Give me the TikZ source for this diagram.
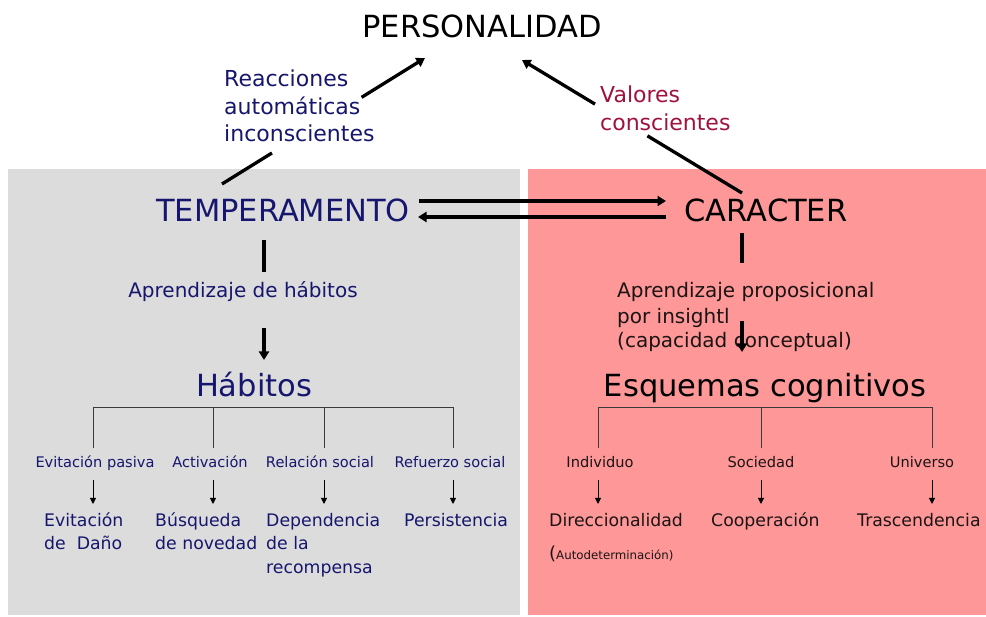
\documentclass[tikz,border=0pt]{standalone}
\usepackage{fontspec}
\setmainfont{DejaVu Sans}
\usetikzlibrary{arrows.meta}
\definecolor{navyt}{HTML}{16166E}
\definecolor{wine}{HTML}{A0123C}
\definecolor{graybg}{HTML}{DCDCDC}
\definecolor{pinkbg}{HTML}{FE9797}
\definecolor{darkt}{HTML}{1C1414}
\definecolor{treeline}{HTML}{3A3A3A}
\tikzset{
  txt/.style={inner sep=0pt, anchor=base},
  txtw/.style={inner sep=0pt, anchor=base west},
  f30/.style={font=\fontsize{30.5}{36}\selectfont},
  f22/.style={font=\fontsize{22}{28}\selectfont},
  f20/.style={font=\fontsize{20}{25}\selectfont},
  f17/.style={font=\fontsize{17.3}{23}\selectfont},
  f15/.style={font=\fontsize{14.6}{18}\selectfont},
  thick arrow/.style={line width=3.3pt, -{Triangle[length=8.5pt,width=10pt]}},
  thick bar/.style={line width=4pt},
  treeln/.style={line width=1pt, draw=treeline},
  tree arrow/.style={line width=1pt, draw=black, -{Triangle[length=6pt,width=6pt]}}
}
\begin{document}
\begin{tikzpicture}[x=1pt,y=-1pt]
\useasboundingbox (0,0) rectangle (986,617);
\fill[white] (0,0) rectangle (986,617);
\fill[graybg] (8,169) rectangle (520,615);
\fill[pinkbg] (528,169) rectangle (986,615);

% top
\node[txt,f30] (pers) at (482,38) {PERSONALIDAD};

% main nodes
\node[txt,f30,text=navyt] (temp) at (283,222) {TEMPERAMENTO};
\node[txt,f30,text=black] (car) at (766,222) {CARACTER};

% labels beside the diagonals
\node[txtw,f22,text=navyt] (r1) at (224,87) {Reacciones};
\node[txtw,f22,text=navyt] (r2) at (224,115) {automáticas};
\node[txtw,f22,text=navyt] (r3) at (224,142) {inconscientes};
\node[txtw,f22,text=wine] (v1) at (600,103) {Valores};
\node[txtw,f22,text=wine] (v2) at (600,131) {conscientes};

% diagonal connectors (interrupted where the labels sit)
\coordinate (tempTop) at (222,184);
\coordinate (persL) at (425,58);
\coordinate (carTop) at (742,193);
\coordinate (persR) at (522,60);
\draw[thick arrow, dash pattern=on 58.8pt off 105.5pt on 300pt] (tempTop) -- (persL);
\draw[thick arrow, dash pattern=on 110.5pt off 61.3pt on 300pt] (carTop) -- (persR);

% double arrows
\coordinate (tR1) at (419,201);
\coordinate (cL1) at (666,201);
\coordinate (tR2) at (418,217);
\coordinate (cL2) at (666,217);
\draw[thick arrow] (tR1) -- (cL1);
\draw[thick arrow] (cL2) -- (tR2);

% left column
\coordinate (tb1) at (264,240);
\coordinate (tb2) at (264,272);
\draw[thick bar] (tb1) -- (tb2);
\node[txt,f20,text=navyt] (aprh) at (243,298) {Aprendizaje de hábitos};
\coordinate (ha1) at (264,328);
\coordinate (ha2) at (264,360);
\draw[thick arrow] (ha1) -- (ha2);
\node[txt,f30,text=navyt] (hab) at (254,397) {Hábitos};

% right column
\coordinate (cb1) at (742,233);
\coordinate (cb2) at (742,263);
\draw[thick bar] (cb1) -- (cb2);
\node[txtw,f20,text=darkt] (aprp1) at (617,298) {Aprendizaje proposicional};
\node[txtw,f20,text=darkt] (aprp2) at (617,324) {por insightl};
\node[txtw,f20,text=darkt] (aprp3) at (617,348) {(capacidad conceptual)};
\coordinate (ca1) at (742,321);
\coordinate (ca2) at (742,352);
\draw[thick arrow] (ca1) -- (ca2);
\node[txt,f30,text=black] (esq) at (765,397) {Esquemas cognitivos};

% left tree
\draw[treeln] (93,448) |- (453,408) -- (453,448);
\draw[treeln] (213,408) -- (213,448);
\draw[treeln] (324,408) -- (324,448);
\node[txt,f15,text=navyt] (l1) at (95,468) {Evitación pasiva};
\node[txt,f15,text=navyt] (l2) at (210,468) {Activación};
\node[txt,f15,text=navyt] (l3) at (320,468) {Relación social};
\node[txt,f15,text=navyt] (l4) at (450,468) {Refuerzo social};
\foreach \x/\n in {93/a,213/b,324/c,453/d}{
  \coordinate (la\n) at (\x,480);
  \coordinate (lb\n) at (\x,504);
  \draw[tree arrow] (la\n) -- (lb\n);
}
\node[txtw,f17,text=navyt] (b1) at (44,527) {Evitación};
\node[txtw,f17,text=navyt] (b1b) at (44,550) {de\ \ Daño};
\node[txtw,f17,text=navyt] (b2) at (155,527) {Búsqueda};
\node[txtw,f17,text=navyt] (b2b) at (155,550) {de novedad};
\node[txtw,f17,text=navyt] (b3) at (266,527) {Dependencia};
\node[txtw,f17,text=navyt] (b3b) at (266,550) {de la};
\node[txtw,f17,text=navyt] (b3c) at (266,573) {recompensa};
\node[txtw,f17,text=navyt] (b4) at (404,527) {Persistencia};

% right tree
\draw[treeln] (598,448) |- (932,408) -- (932,448);
\draw[treeln] (761,408) -- (761,448);
\node[txt,f15,text=darkt] (m1) at (600,468) {Individuo};
\node[txt,f15,text=darkt] (m2) at (761,468) {Sociedad};
\node[txt,f15,text=darkt] (m3) at (922,468) {Universo};
\foreach \x/\n in {598/a,761/b,932/c}{
  \coordinate (ma\n) at (\x,480);
  \coordinate (mb\n) at (\x,504);
  \draw[tree arrow] (ma\n) -- (mb\n);
}
\node[txtw,f17,text=darkt] (d1) at (549,527) {Direccionalidad};
\node[txtw,f17,text=darkt] (d2) at (711,527) {Cooperación};
\node[txtw,f17,text=darkt] (d3) at (857,527) {Trascendencia};
\node[txtw,text=darkt] (d1b) at (549,559) {\fontsize{18}{20}\selectfont(\fontsize{11.8}{12}\selectfont Autodeterminación)};
\end{tikzpicture}
\end{document}
